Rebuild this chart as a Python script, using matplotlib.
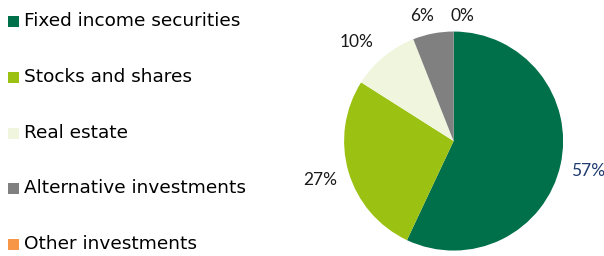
import matplotlib
matplotlib.use("Agg")
import matplotlib.pyplot as plt

# Datos del gráfico
categorias = ["Fixed income securities", "Stocks and shares", "Real estate",
              "Alternative investments", "Other investments"]
valores = [57, 27, 10, 6, 0]
etiquetas = ["57%", "27%", "10%", "6%", "0%"]
colores = ["#00704A", "#9BC112", "#F0F5DD", "#808080", "#F79646"]

fig = plt.figure(figsize=(6.04, 2.56), dpi=100)

# Pie
ax = fig.add_axes([0.751 - 0.1813, 0.449 - 0.4277, 0.3626, 0.8555])
wedges, _ = ax.pie(valores, colors=colores, startangle=90, counterclock=False,
                   radius=1.0, wedgeprops=dict(linewidth=0))
ax.set_xlim(-1, 1)
ax.set_ylim(-1, 1)
ax.set_aspect("equal")
ax.axis("off")

# Posiciones de las etiquetas (en pixeles de la figura)
pos_etiquetas = [(588, 171), (320, 180), (357, 42), (422, 16), (462, 16)]
color_etiq = ["#1F3A6E", "#1a1a1a", "#1a1a1a", "#1a1a1a", "#1a1a1a"]
for (x, y), t, c in zip(pos_etiquetas, etiquetas, color_etiq):
    fig.text(x / 604, 1 - y / 256, t, ha="center", va="center",
             fontsize=12.5, color=c, family="Lato")

# Leyenda manual
filas_y = [21, 77, 133, 188, 244]
for yy, cat, col in zip(filas_y, categorias, colores):
    fig.patches.append(plt.Rectangle((8 / 604, 1 - (yy + 5.5) / 256), 11 / 604, 11 / 256,
                                     transform=fig.transFigure, facecolor=col,
                                     edgecolor="none", figure=fig))
    fig.text(24 / 604, 1 - yy / 256, cat, ha="left", va="center",
             fontsize=13.3, color="#000000", family="DejaVu Sans")

fig.savefig("out.png", dpi=100)
